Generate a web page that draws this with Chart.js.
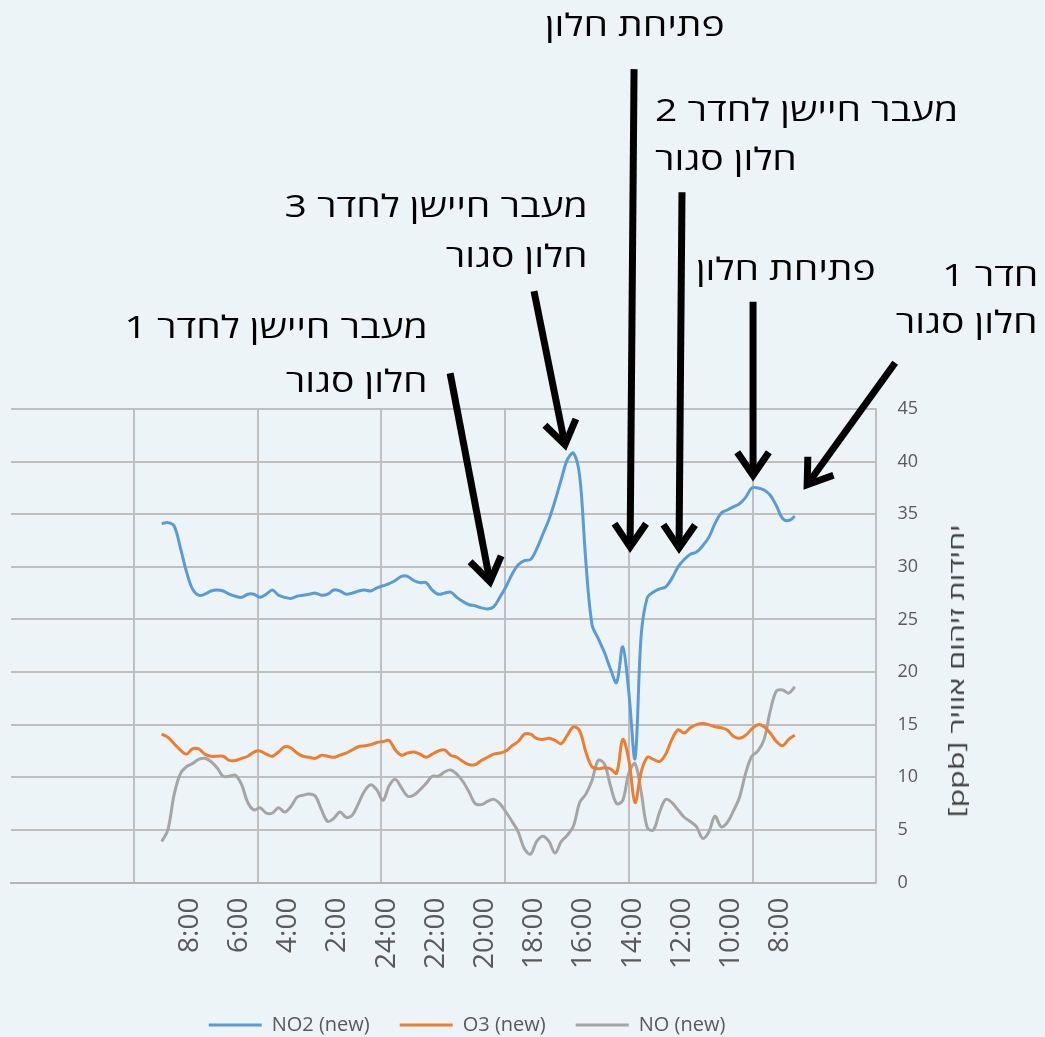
<!DOCTYPE html>
<html>
<head>
<meta charset="utf-8">
<script src="https://cdn.jsdelivr.net/npm/chart.js@4.4.1/dist/chart.umd.min.js"></script>
<style>
html,body{margin:0;padding:0;background:#EDF4F8;}
#wrap{position:relative;width:1045px;height:1037px;overflow:hidden;background:#EDF4F8;}
#c{position:absolute;left:0;top:0;}
.note{position:absolute;direction:rtl;white-space:nowrap;font-family:"Open Sans","Liberation Sans",sans-serif;font-size:31px;line-height:40px;height:40px;color:#000;}
#ytitle{position:absolute;white-space:nowrap;direction:rtl;font-family:"Open Sans","Liberation Sans",sans-serif;font-size:21px;line-height:26px;color:#404040;transform:translate(-50%,-50%) rotate(-90deg) scaleX(1.45);}
</style>
</head>
<body>
<div id="wrap">
<canvas id="c" width="1045" height="1045" style="width:1045px;height:1045px"></canvas>
<div id="ytitle">יחידות זיהום אוויר [ppb]</div>
</div>
<script>
// ---------------- DATA ----------------
const times = [
"07:24","07:39","07:54","08:09","08:24","08:39","08:54","09:09",
"09:24","09:39","09:54","10:09","10:24","10:39","10:54","11:09",
"11:24","11:39","11:54","12:09","12:24","12:39","12:54","13:09",
"13:24","13:39","13:54","14:09","14:24","14:39","14:54","15:09",
"15:24","15:39","15:54","16:09","16:24","16:39","16:54","17:09",
"17:24","17:39","17:54","18:09","18:24","18:39","18:54","19:09",
"19:24","19:39","19:54","20:09","20:24","20:39","20:54","21:09",
"21:24","21:39","21:54","22:09","22:24","22:39","22:54","23:09",
"23:24","23:39","23:54","00:09","00:24","00:39","00:54","01:09",
"01:24","01:39","01:54","02:09","02:24","02:39","02:54","03:09",
"03:24","03:39","03:54","04:09","04:24","04:39","04:54","05:09",
"05:24","05:39","05:54","06:09","06:24","06:39","06:54","07:09",
"07:24","07:39","07:54","08:09","08:24","08:39","08:54","09:09"
];
const no2 = [
34.8,34.4,34.6,35.8,36.8,37.3,37.5,37.5,36.6,36.0,35.7,35.4,35.1,34.1,32.8,32.0,
31.4,31.2,30.7,30.0,28.9,28.1,27.9,27.6,27.1,23.5,11.8,18.0,22.4,19.0,20.3,21.9,
23.2,24.5,30.5,38.6,40.8,40.2,38.3,36.3,34.5,33.1,31.7,30.7,30.6,30.2,29.3,28.1,
27.1,26.2,26.0,26.1,26.3,26.4,26.7,27.1,27.6,27.5,27.4,27.8,28.5,28.5,28.7,29.1,
29.1,28.7,28.4,28.2,28.0,27.7,27.8,27.7,27.5,27.4,27.7,27.8,27.4,27.3,27.5,27.4,
27.3,27.2,27.0,27.1,27.3,27.8,27.4,27.1,27.4,27.4,27.1,27.2,27.4,27.7,27.8,27.7,
27.4,27.3,27.9,29.6,31.9,33.9,34.2,34.1
];
const o3 = [
14.0,13.6,13.0,13.4,14.2,14.8,15.0,14.6,14.0,13.7,13.9,14.5,14.7,14.8,15.0,15.1,
15.0,14.7,14.2,14.5,13.6,12.2,11.5,11.7,11.9,10.5,7.6,11.6,13.6,10.4,10.8,10.9,
10.8,11.0,12.4,14.4,14.8,14.0,13.2,13.5,13.7,13.6,13.7,14.1,14.1,13.4,13.0,12.5,
12.3,12.2,11.9,11.6,11.2,11.2,11.5,11.9,12.1,12.6,12.5,12.2,11.9,12.2,12.4,12.3,
12.1,12.6,13.5,13.4,13.3,13.1,13.0,12.9,12.6,12.3,12.1,11.9,12.0,12.1,11.8,11.9,
12.0,12.3,12.8,12.9,12.4,12.0,12.2,12.5,12.4,12.0,11.8,11.6,11.6,12.0,12.0,12.0,
12.2,12.7,12.7,12.2,12.6,13.2,13.8,14.1
];
const no = [
18.6,18.0,18.3,18.2,16.3,13.6,12.5,12.0,10.4,8.1,6.8,5.7,5.3,6.3,4.8,4.2,
5.3,5.8,6.2,6.9,7.6,7.9,6.7,5.0,5.2,8.6,11.3,10.4,7.8,7.5,9.2,11.3,
11.6,9.7,8.4,7.6,5.4,4.5,3.9,2.8,3.9,4.4,3.9,2.7,3.2,4.8,5.8,6.7,
7.5,7.9,7.7,7.4,7.5,8.6,9.6,10.3,10.7,10.5,10.1,10.1,9.4,8.8,8.3,8.2,
9.0,9.8,9.2,7.8,8.8,9.3,8.7,7.5,6.4,6.2,6.7,6.1,5.8,6.9,8.2,8.4,
8.3,8.1,7.2,6.7,7.1,6.6,6.6,7.1,6.9,7.6,9.3,10.2,10.1,10.1,10.9,11.5,
11.8,11.7,11.3,11.0,10.3,8.3,5.0,3.9
];
const seriesNames = ["NO2 (new)", "O3 (new)", "NO (new)"];
const seriesColors = ["#5B9BD5", "#ED7D31", "#A5A5A5"];
const tickHours = [8,10,12,14,16,18,20,22,24,26,28,30,32];
const tickLabels = ["8:00","10:00","12:00","14:00","16:00","18:00","20:00","22:00","24:00","2:00","4:00","6:00","8:00"];
const gridHours = [9.1,14.14,19.19,24.23,29.24,34.26];
const xRange = [4.12, 39.28];
const yTicks = [0,5,10,15,20,25,30,35,40,45];
const yTitle = "יחידות זיהום אוויר [ppb]";
// annotations: arrow tail/tip in chart units (hour, ppb)
const arrows = [
  {from:[21.42,48.4], to:[19.80,28.6]},
  {from:[18.01,56.2], to:[16.75,41.6]},
  {from:[13.94,77.3], to:[14.10,31.9]},
  {from:[11.99,65.6], to:[12.11,31.8]},
  {from:[9.10,55.2],  to:[9.10,38.7]},
  {from:[3.32,49.4],  to:[6.90,37.8]}
];
const notes = [
  {lines:["מעבר חיישן לחדר 1","חלון סגור"], x:428, align:"right", ys:[328,382]},
  {lines:["מעבר חיישן לחדר 3","חלון סגור"], x:588, align:"right", ys:[207,257]},
  {lines:["פתיחת חלון"], x:725, align:"right", ys:[26]},
  {lines:["מעבר חיישן לחדר 2","חלון סגור"], x:655, align:"left", ys:[111,160]},
  {lines:["פתיחת חלון"], x:876, align:"right", ys:[270]},
  {lines:["חדר 1","חלון סגור"], x:1038, align:"right", ys:[276,323]}
];

// ---------------- BUILD ----------------
function toHours(list){
  const out=[]; let prev=-1, add=0;
  list.forEach(s=>{ const [H,M]=s.split(':').map(Number); let h=H+M/60; if(h+add<prev) add+=24; h+=add; out.push(h); prev=h; });
  return out;
}
const hrs = toHours(times);
const mk = arr => arr.map((v,i)=>({x:hrs[i], y:v}));
const seriesData = [no2, o3, no];

const wrap = document.getElementById('wrap');
notes.forEach(n=>{
  n.lines.forEach((t,j)=>{
    const d=document.createElement('div');
    d.className='note';
    d.textContent=t;
    d.style.top=(n.ys[j]-22)+'px';
    if(n.align==='right'){ d.style.right=(1045-n.x)+'px'; d.style.textAlign='right'; d.style.transformOrigin='right center'; }
    else { d.style.left=n.x+'px'; d.style.textAlign='left'; d.style.transformOrigin='left center'; }
    d.style.transform='scaleX(1.26)';
    wrap.appendChild(d);
  });
});
const yt=document.getElementById('ytitle');
yt.textContent=yTitle;
yt.style.left='956px'; yt.style.top='671px';

const arrowPlugin = {
  id:'arrows',
  afterDraw(chart){
    const {ctx, scales:{x,y}} = chart;
    ctx.save();
    ctx.strokeStyle='#000'; ctx.lineWidth=7; ctx.lineCap='butt'; ctx.lineJoin='miter';
    arrows.forEach(a=>{
      const x0=x.getPixelForValue(a.from[0]), y0=y.getPixelForValue(a.from[1]);
      const x1=x.getPixelForValue(a.to[0]), y1=y.getPixelForValue(a.to[1]);
      const ang=Math.atan2(y1-y0,x1-x0);
      ctx.beginPath(); ctx.moveTo(x0,y0); ctx.lineTo(x1-Math.cos(ang)*3,y1-Math.sin(ang)*3); ctx.stroke();
      const L=28, ha=0.6;
      ctx.beginPath();
      ctx.moveTo(x1-L*Math.cos(ang-ha), y1-L*Math.sin(ang-ha));
      ctx.lineTo(x1,y1);
      ctx.lineTo(x1-L*Math.cos(ang+ha), y1-L*Math.sin(ang+ha));
      ctx.stroke();
    });
    ctx.restore();
  }
};

const GRID='#BFBFBF';
new Chart(document.getElementById('c'), {
  type:'line',
  data:{ datasets: seriesNames.map((n,i)=>({
    label:n, data:mk(seriesData[i]), borderColor:seriesColors[i], backgroundColor:seriesColors[i],
    borderWidth:3, pointRadius:0, tension:0.35, fill:false
  }))},
  options:{
    responsive:false, animation:false, events:[],
    layout:{padding:{left:11, right:122, top:409, bottom:0}},
    plugins:{
      tooltip:{enabled:false},
      legend:{position:'bottom', labels:{usePointStyle:true, pointStyle:'line', pointStyleWidth:53, boxHeight:19,
        color:'#595959', font:{family:'Open Sans', size:20}, padding:30}}
    },
    scales:{
      x:{type:'linear', reverse:true, min:xRange[0], max:xRange[1],
        afterBuildTicks:s=>{ s.ticks=[...tickHours, ...gridHours].sort((a,b)=>a-b).map(v=>({value:v})); },
        afterFit:s=>{ s.height = 1045-30-30-882.5; },
        ticks:{autoSkip:false, minRotation:90, maxRotation:90, padding:15, color:'#595959',
          font:{family:'Open Sans', size:28},
          callback:v=>{ const k=tickHours.indexOf(v); return k>=0?tickLabels[k]:''; }},
        grid:{drawTicks:false, lineWidth:2, color:c=> (c.tick && gridHours.includes(c.tick.value)) ? GRID : 'rgba(0,0,0,0)'},
        border:{display:true, color:'#B4B4B4', width:2}
      },
      y:{position:'right', min:0, max:45,
        afterBuildTicks:s=>{ s.ticks=yTicks.map(v=>({value:v})); },
        afterFit:s=>{ s.width=47.5; },
        ticks:{padding:22, color:'#595959', font:{family:'Open Sans', size:18}},
        grid:{drawTicks:false, lineWidth:2, color:GRID},
        border:{display:true, color:GRID, width:2}
      }
    }
  },
  plugins:[arrowPlugin]
});
</script>
</body>
</html>
